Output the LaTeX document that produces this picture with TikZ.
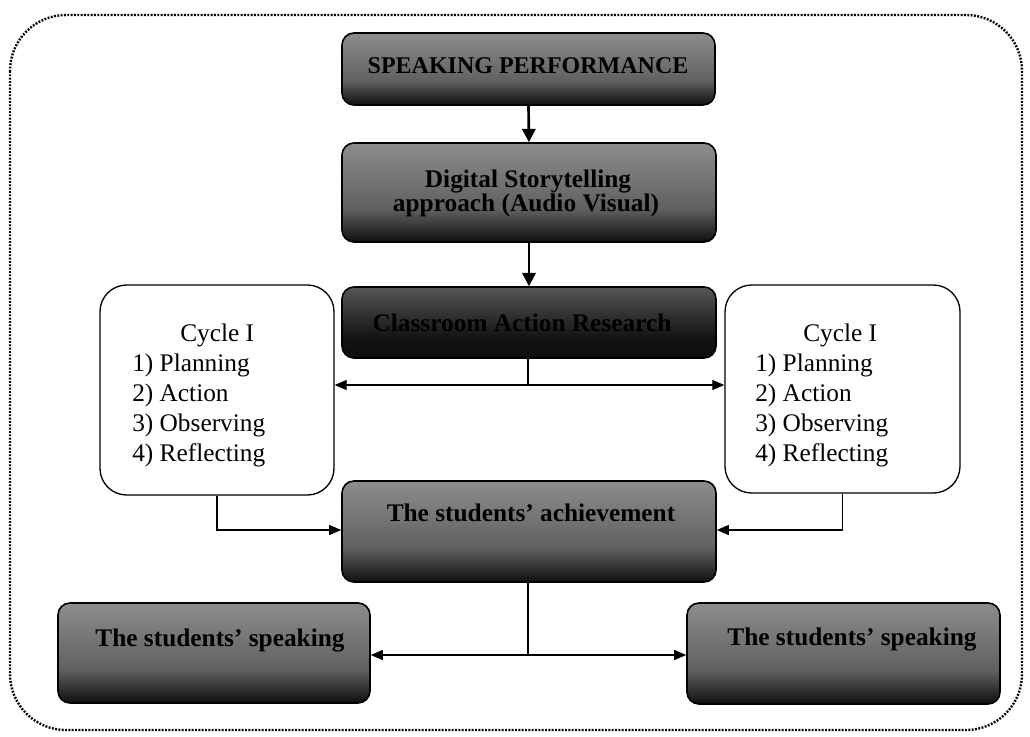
\documentclass[tikz,border=0pt]{standalone}
\usepackage{fontspec}
\setmainfont{Liberation Serif}
\usetikzlibrary{arrows.meta,positioning}
\pgfdeclareverticalshading{darkshade}{100bp}{color(0bp)=(black); color(24bp)=(black!96); color(42bp)=(black!62); color(100bp)=(black!32)}
\pgfdeclareverticalshading{darkershade}{100bp}{color(0bp)=(black); color(40bp)=(black!92); color(70bp)=(black!70); color(100bp)=(black!45)}
\tikzset{
  darkbox/.style={draw=black, line width=1.2pt, rounded corners=9pt, shading=darkshade, inner sep=0pt},
  cyclebox/.style={draw=black, line width=1pt, rounded corners=20pt, fill=white, inner sep=0pt},
  boxtext/.style={font=\fontsize{19}{22}\selectfont\bfseries, text=black, inner sep=0pt, align=center},
  cyctext/.style={font=\fontsize{19}{22.5}\selectfont, text=black, inner sep=0pt, align=left},
  mainarrow/.style={-{Triangle[length=10pt,width=10pt]}, line width=2pt},
  thinarrow/.style={-{Triangle[length=9pt,width=7.5pt]}, line width=0.9pt},
  plainline/.style={line width=0.9pt},
  frame/.style={dash pattern=on 1.4pt off 1.1pt, line width=1.8pt, rounded corners=42pt}
}
\begin{document}
\begin{tikzpicture}[x=0.75pt,y=-0.75pt]
\path[use as bounding box] (0,0) rectangle (1030,736);
\draw[frame] (10,15) rectangle (1022,730);

% dark boxes
\node[darkbox, minimum width={373*0.75pt}, minimum height={72*0.75pt}] (perf) at (528.5,69) {};
\node[boxtext, anchor=base, font=\fontsize{18}{22}\selectfont\bfseries] (perft) at (528,73) {SPEAKING PERFORMANCE};

\node[darkbox, minimum width={374*0.75pt}, minimum height={99*0.75pt}] (dig) at (529,192.5) {};
\node[boxtext, anchor=base] (digt) at (528,187) {Digital Storytelling};
\node[boxtext, anchor=base] (digt2) at (526,211) {approach (Audio Visual)};

\node[darkbox, shading=darkershade, minimum width={374*0.75pt}, minimum height={71*0.75pt}] (car) at (529,322.5) {};
\node[boxtext, anchor=base] (cart) at (522,331) {Classroom Action Research};

\node[darkbox, minimum width={374*0.75pt}, minimum height={101*0.75pt}] (ach) at (529,531.5) {};
\node[boxtext, anchor=base] (acht) at (531,521) {The students' achievement};

\node[darkbox, minimum width={312*0.75pt}, minimum height={100*0.75pt}] (botL) at (214,653) {};
\node[boxtext, anchor=base] (botLt) at (220,646) {The students' speaking};

\node[darkbox, minimum width={313*0.75pt}, minimum height={101*0.75pt}] (botR) at (843.5,653.5) {};
\node[boxtext, anchor=base] (botRt) at (852,645) {The students' speaking};

% cycle boxes
\node[cyclebox, minimum width={234*0.75pt}, minimum height={210*0.75pt}] (cycL) at (217,390) {};
\node[cyctext, anchor=west] (cycLt) at (132,395) {\hspace*{36pt}Cycle I\\1) Planning\\2) Action\\3) Observing\\4) Reflecting};

\node[cyclebox, minimum width={235*0.75pt}, minimum height={208*0.75pt}] (cycR) at (842.5,389) {};
\node[cyctext, anchor=west] (cycRt) at (755,395) {\hspace*{36pt}Cycle I\\1) Planning\\2) Action\\3) Observing\\4) Reflecting};

% connectors
\draw[mainarrow] (perf.south) -- (dig.north);
\draw[mainarrow] (dig.south) -- (car.north);

\coordinate (j1) at (528,385);
\draw[plainline] (car.south -| j1) -- (j1);
\draw[thinarrow] (j1) -- (cycL.east |- j1);
\draw[thinarrow] (j1) -- (cycR.west |- j1);

\coordinate (j2) at (217,530);
\draw[thinarrow] (cycL.south) -- (j2) -- (ach.west |- j2);
\coordinate (j3) at (842.5,530);
\draw[thinarrow] (cycR.south) -- (j3) -- (ach.east |- j3);

\coordinate (j4) at (528,655);
\draw[plainline] (ach.south -| j4) -- (j4);
\draw[thinarrow] (j4) -- (botL.east |- j4);
\draw[thinarrow] (j4) -- (botR.west |- j4);
\end{tikzpicture}
\end{document}
